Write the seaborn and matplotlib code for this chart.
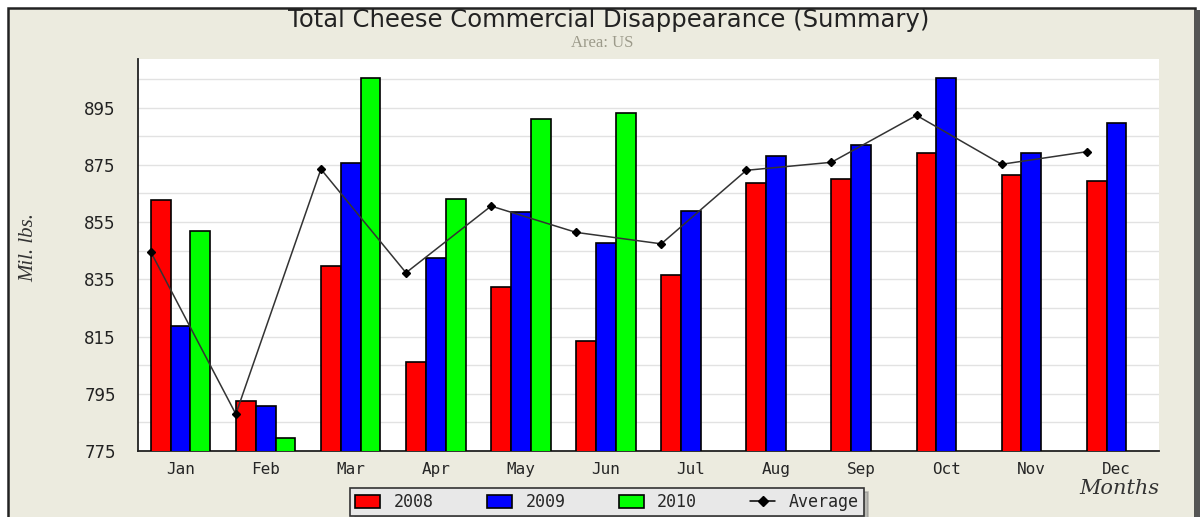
import numpy as np
import pandas as pd
import matplotlib
matplotlib.use('Agg')
import matplotlib.pyplot as plt
import seaborn as sns
from matplotlib.patches import Patch, Rectangle
from matplotlib.lines import Line2D

# Data (Mil. lbs.)
months = ['Jan', 'Feb', 'Mar', 'Apr', 'May', 'Jun',
          'Jul', 'Aug', 'Sep', 'Oct', 'Nov', 'Dec']
years = ['2008', '2009', '2010']
values_2008 = [862.6, 792.4, 839.8, 806.2, 832.4, 813.4,
               836.4, 868.8, 869.9, 879.2, 871.5, 869.5]
values_2009 = [818.7, 790.9, 875.6, 842.3, 858.4, 847.8,
               858.8, 878.0, 882.0, 905.4, 879.2, 889.7]
values_2010 = [851.8, 779.4, 905.4, 863.1, 890.9, 893.2,
               np.nan, np.nan, np.nan, np.nan, np.nan, np.nan]
average = [844.6, 787.9, 873.5, 837.3, 860.6, 851.4,
           847.4, 873.1, 875.9, 892.3, 875.2, 879.6]

bar_colors = ['#FF0000', '#0000FF', '#00FF00']
bg_color = '#ECEBDF'


def build_frame():
    rows = []
    for year, vals in zip(years, [values_2008, values_2009, values_2010]):
        for m, v in zip(months, vals):
            rows.append({'Month': m, 'Year': year, 'Value': v})
    return pd.DataFrame(rows)


def main():
    sns.set_style('white')
    plt.rcParams['font.family'] = ['DejaVu Sans']

    df = build_frame()

    fig = plt.figure(figsize=(12, 5.17), dpi=100, facecolor='white')
    # beige panel with dark border, kept behind the axes
    fig.patches.append(Rectangle((8 / 1200, -0.05), 1187 / 1200, 1.05 - 8 / 517,
                                 transform=fig.transFigure, facecolor=bg_color,
                                 edgecolor='#222222', linewidth=1.8, zorder=-10))
    fig.patches.append(Rectangle((1195 / 1200, -0.05), 5 / 1200, 1.05 - 10 / 517,
                                 transform=fig.transFigure, facecolor='#555555',
                                 edgecolor='none', zorder=-9))

    ax = fig.add_axes([138 / 1200, 1 - 451 / 517, 1021 / 1200, 392 / 517])
    ax.set_facecolor('white')

    sns.barplot(data=df, x='Month', y='Value', hue='Year', order=months,
                hue_order=years, palette=bar_colors, saturation=1, width=0.7,
                edgecolor='black', linewidth=1.2, legend=False, ax=ax,
                zorder=3)

    # average line sits at the left edge of each month group
    x_avg = np.arange(len(months)) - 0.35
    ax.plot(x_avg, average, color='#333333', linewidth=1.1, marker='D',
            markersize=4, markerfacecolor='black', markeredgecolor='black',
            zorder=4)

    ax.set_ylim(775, 912)
    ax.set_xlim(-0.5, 11.5)
    ax.set_yticks(np.arange(775, 900, 20))
    ax.set_yticks(np.arange(785, 910, 20), minor=True)
    ax.yaxis.grid(True, which='both', color='#E2E2E2', linewidth=1, zorder=0)
    ax.set_axisbelow(True)
    ax.set_xticks(np.arange(0.5, 12, 1), minor=True)

    ax.tick_params(axis='y', which='both', direction='in', length=7,
                   width=1, pad=16, labelsize=12, colors='#222222')
    ax.tick_params(axis='x', which='major', length=0, pad=8)
    ax.tick_params(axis='x', which='minor', direction='in', length=6, width=1)
    for lab in ax.get_xticklabels():
        lab.set_family('DejaVu Sans Mono')
        lab.set_fontsize(11.5)
    for sp in ['top', 'right']:
        ax.spines[sp].set_visible(False)
    for sp in ['left', 'bottom']:
        ax.spines[sp].set_color('#222222')
        ax.spines[sp].set_linewidth(1.3)
    ax.set_xlabel('')
    ax.set_ylabel('')

    fig.text(609 / 1200, 1 - 20 / 517,
             'Total Cheese Commercial Disappearance (Summary)',
             ha='center', va='center', fontsize=17.5, color='#222222',
             family='DejaVu Sans')
    fig.text(602 / 1200, 1 - 43 / 517, 'Area: US', ha='center', va='center',
             fontsize=12, color='#9C9A8A', family='Liberation Serif')
    fig.text(29 / 1200, 1 - 248 / 517, 'Mil. lbs.', rotation=90,
             ha='center', va='center', fontsize=15, style='italic',
             color='#333333', family='Liberation Serif')
    fig.text(1159 / 1200, 1 - 488 / 517, 'Months', ha='right', va='center',
             fontsize=15, style='italic', color='#333333',
             family='DejaVu Serif')

    handles = [Patch(facecolor=c, edgecolor='black', linewidth=1.2)
               for c in bar_colors]
    handles.append(Line2D([], [], color='black', linewidth=1.1, marker='D',
                          markersize=5))
    leg = fig.legend(handles, years + ['Average'], loc='center',
                     bbox_to_anchor=(607 / 1200, 1 - 502 / 517), ncol=4,
                     frameon=True, fancybox=False, facecolor='#E8E8E8',
                     edgecolor='#333333', handlelength=1.5, handleheight=0.8,
                     handletextpad=0.8, columnspacing=3.2, borderpad=0.3,
                     prop={'family': 'DejaVu Sans Mono', 'size': 12},
                     shadow={'ox': 3, 'oy': -3, 'color': '#888888'})
    leg.get_frame().set_linewidth(1.2)

    fig.savefig('out.png', dpi=100, facecolor=fig.get_facecolor())
    plt.close(fig)


if __name__ == '__main__':
    main()
